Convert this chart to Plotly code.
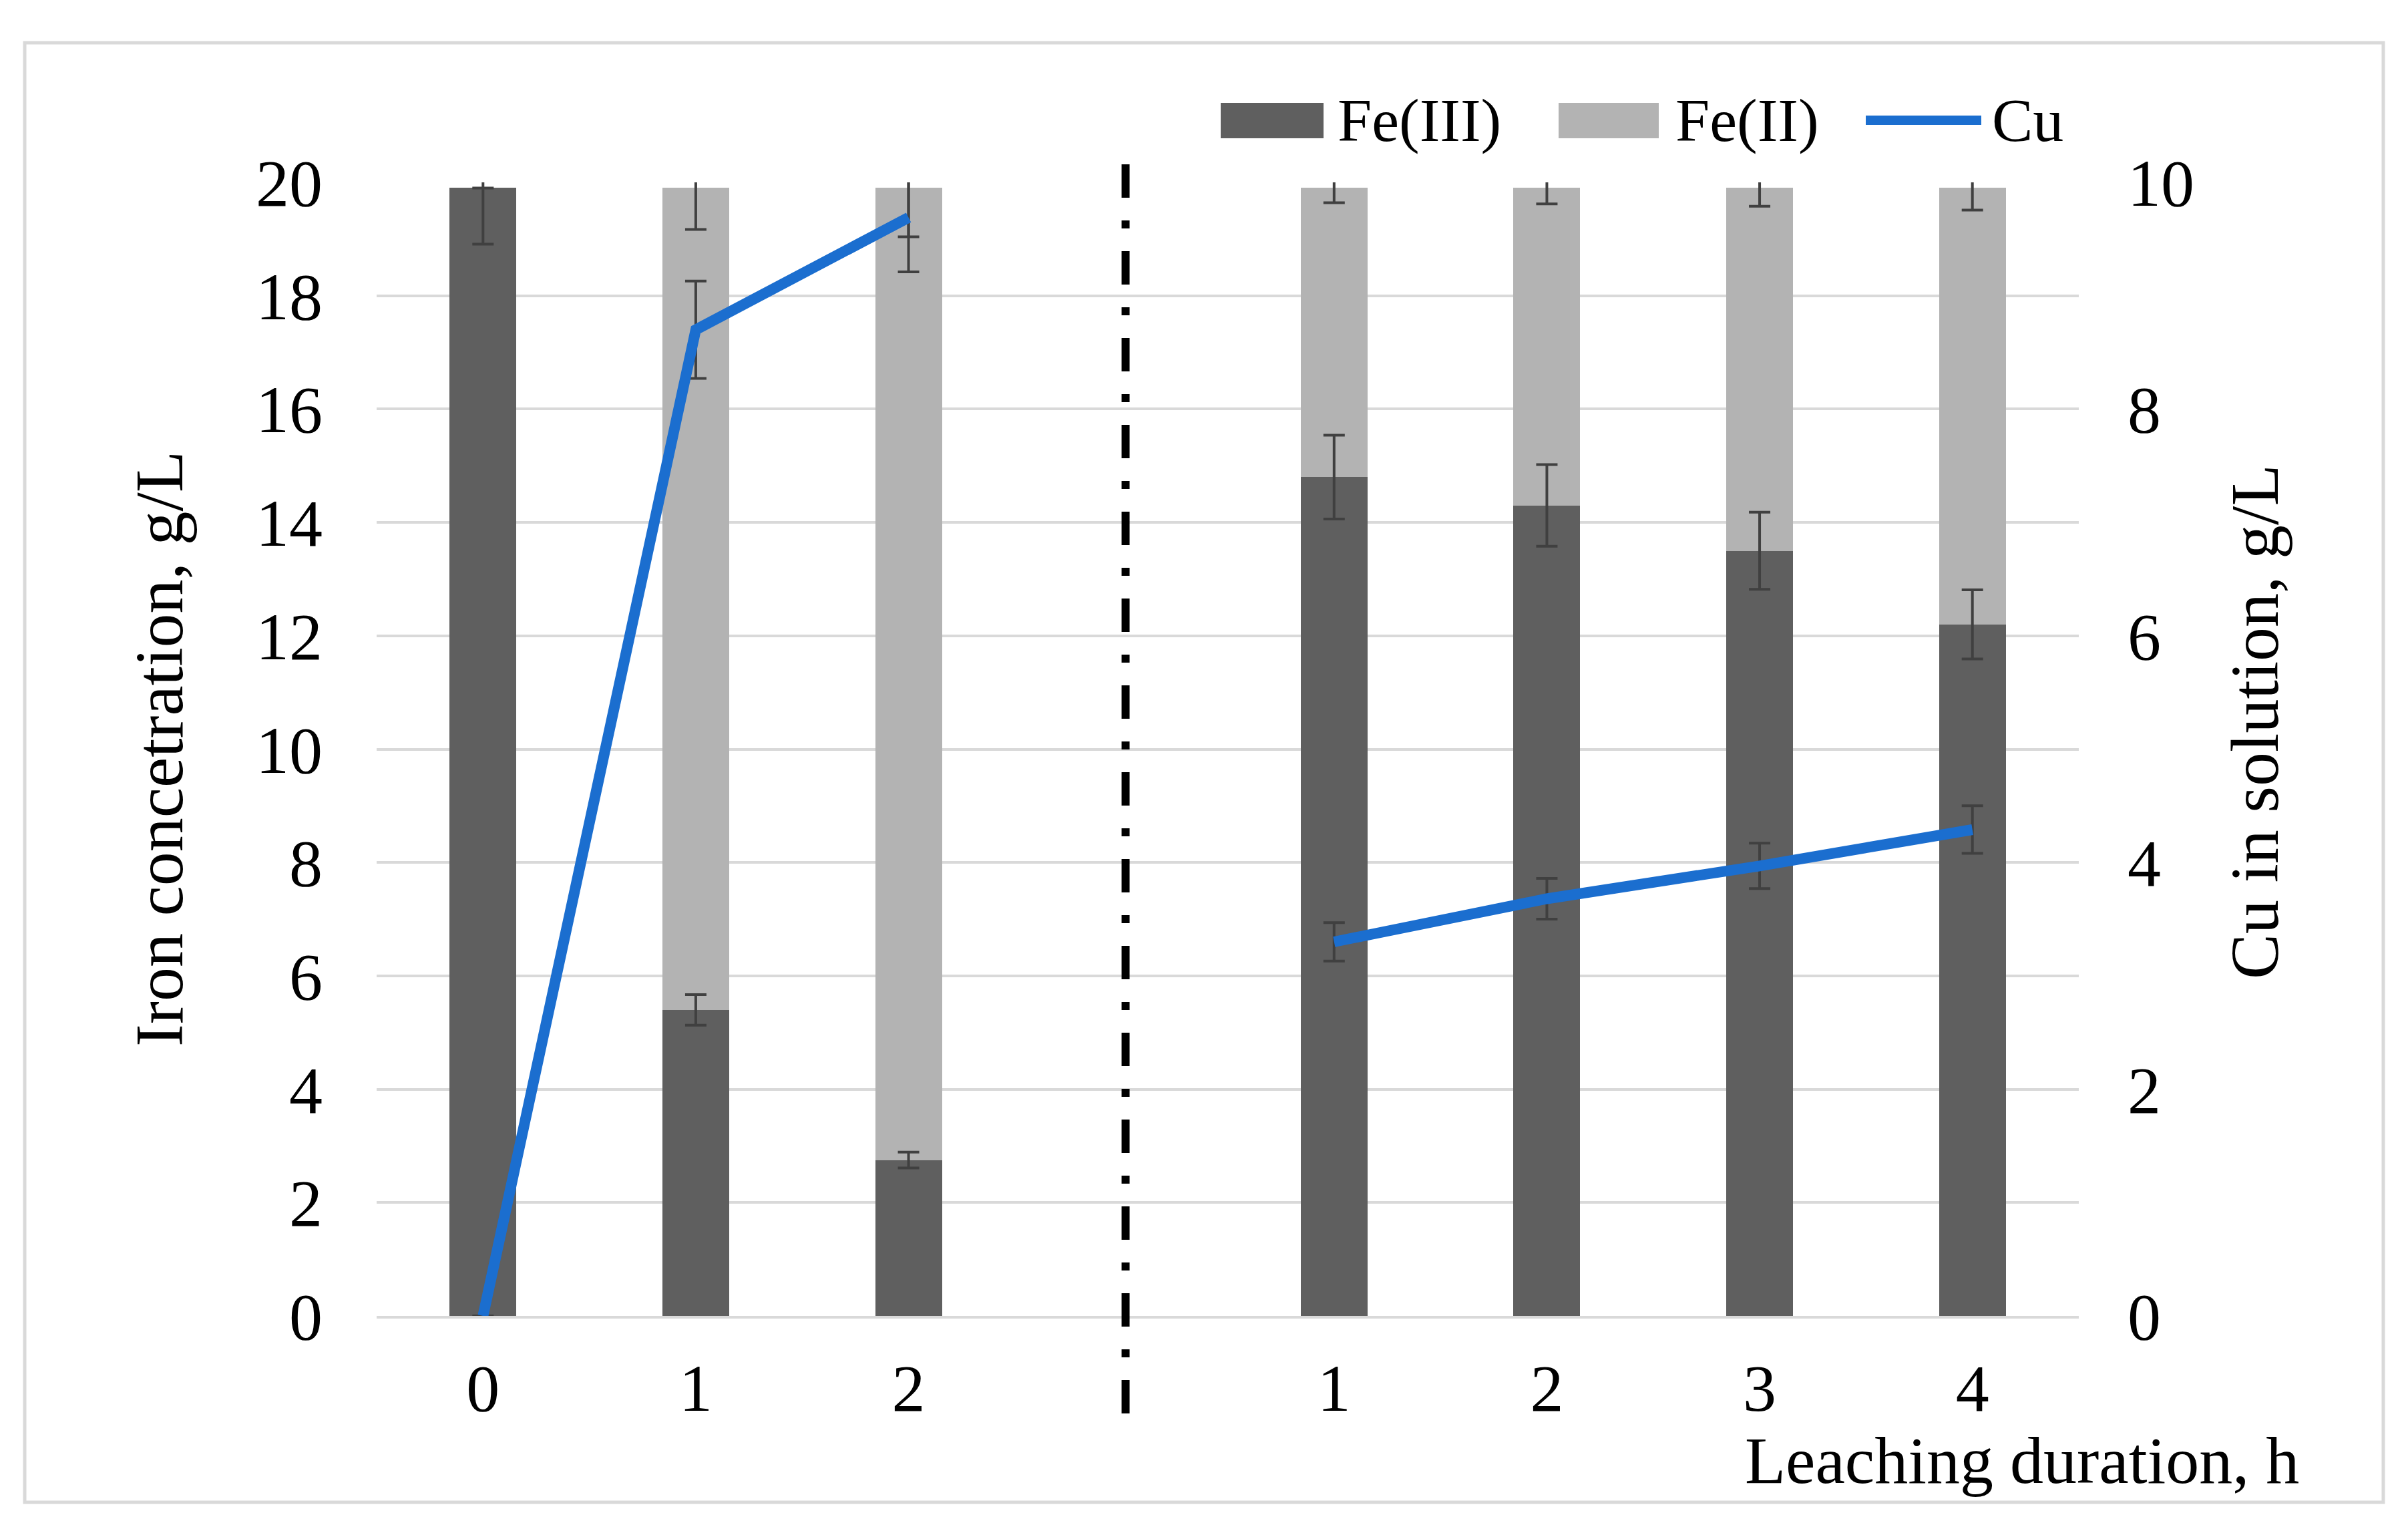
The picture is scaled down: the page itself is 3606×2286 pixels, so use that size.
import plotly.graph_objects as go

# ---- data ----
phase1_hours = ["0", "1", "2"]          # first leaching stage
phase2_hours = ["1", "2", "3", "4"]     # second stage (after the dash-dot line)

fe3 = [19.9, 5.4, 2.75, 14.8, 14.3, 13.5, 12.2]      # Fe(III), g/L
fe2 = [0.0, 14.5, 17.15, 5.1, 5.6, 6.4, 7.7]         # Fe(II), g/L (stacked on Fe(III))
cu = [0.0, 8.7, 9.69, 3.3, 3.68, 3.97, 4.29]         # Cu in solution, g/L

fe3_err = [0.99, 0.27, 0.14, 0.74, 0.72, 0.68, 0.61]
fe2_err = [0.0, 0.73, 0.86, 0.26, 0.28, 0.32, 0.39]
cu_err = [0.0, 0.43, 0.48, 0.17, 0.18, 0.20, 0.21]

FE3_COLOR = "#5f5f5f"
FE2_COLOR = "#b3b3b3"
CU_COLOR = "#1b6ecf"
ERR_COLOR = "#404040"
GRID_COLOR = "#d9d9d9"
FONT = "Liberation Serif"

W, H = 3606, 2286
PAGE_PAD = 8   # default body margin of the html page
PLOT_L, PLOT_R, PLOT_T, PLOT_B = 564, 3113, 273, 1970   # plot area, page pixels


def px(x, y):
    """page pixel position -> paper coords"""
    return (x - PLOT_L) / (PLOT_R - PLOT_L), (PLOT_B - y) / (PLOT_B - PLOT_T)


# slot 3 is left empty for the separator between the two stages
pos = [0, 1, 2] + [4, 5, 6, 7]
labels = phase1_hours + phase2_hours
gap = 3
totals = [a + b for a, b in zip(fe3, fe2)]

fig = go.Figure()

fig.add_trace(go.Bar(x=pos, y=fe3, name="Fe(III)", marker=dict(color=FE3_COLOR, line_width=0),
                     width=0.314, showlegend=False))
fig.add_trace(go.Bar(x=pos, y=fe2, name="Fe(II)", marker=dict(color=FE2_COLOR, line_width=0),
                     width=0.314, showlegend=False))

# error bars drawn on top of both stacks (so Fe(II) doesn't hide the Fe(III) ones)
err_style = dict(type="data", color=ERR_COLOR, thickness=4, width=16)
fig.add_trace(go.Scatter(x=pos, y=fe3, mode="markers", marker=dict(size=1, opacity=0),
                         error_y=dict(array=fe3_err, **err_style), showlegend=False, hoverinfo="skip"))
fig.add_trace(go.Scatter(x=pos, y=totals, mode="markers", marker=dict(size=1, opacity=0),
                         error_y=dict(array=fe2_err, **err_style), showlegend=False, hoverinfo="skip"))
fig.add_trace(go.Scatter(x=pos, y=cu, yaxis="y2", mode="markers", marker=dict(size=1, opacity=0),
                         error_y=dict(array=cu_err, **err_style), showlegend=False, hoverinfo="skip"))

# Cu line, broken at the separator slot
line_x = pos[:3] + [gap] + pos[3:]
line_y = cu[:3] + [None] + cu[3:]
fig.add_trace(go.Scatter(x=line_x, y=line_y, yaxis="y2", mode="lines", name="Cu",
                         line=dict(color=CU_COLOR, width=16), showlegend=False))

shapes = []
annotations = []

# outer frame
x0, y0 = px(37, 2249)
x1, y1 = px(3569, 64)
shapes.append(dict(type="rect", xref="paper", yref="paper", x0=x0, x1=x1, y0=y0, y1=y1,
                   line=dict(color=GRID_COLOR, width=5), layer="below"))

# dash-dot separator between the stages
_, sy0 = px(0, 2116)
_, sy1 = px(0, 223)
shapes.append(dict(type="line", xref="x", yref="paper", x0=gap + 0.02, x1=gap + 0.02, y0=sy0, y1=sy1,
                   line=dict(color="black", width=12, dash="50px,34px,12px,34px")))

# hand-drawn legend (Excel-style wide swatches)
legend_items = [
    ("Fe(III)", "rect", FE3_COLOR, 1828, 1982, 2001),
    ("Fe(II)", "rect", FE2_COLOR, 2334, 2484, 2507),
    ("Cu", "line", CU_COLOR, 2794, 2967, 2981),
]
for text, kind, color, sx0, sx1, tx in legend_items:
    a, b = px(sx0, 207)
    c, d = px(sx1, 154)
    if kind == "rect":
        shapes.append(dict(type="rect", xref="paper", yref="paper", x0=a, x1=c, y0=b, y1=d,
                           fillcolor=color, line_width=0))
    else:
        _, ym = px(0, 180)
        shapes.append(dict(type="line", xref="paper", yref="paper", x0=a, x1=c, y0=ym, y1=ym,
                           line=dict(color=color, width=14)))
    tx_p, ty_p = px(tx, 180)
    annotations.append(dict(text=text, xref="paper", yref="paper", x=tx_p, y=ty_p,
                            xanchor="left", yanchor="middle", showarrow=False,
                            font=dict(family=FONT, size=92, color="black")))

# axis titles
ax_, ay_ = px(238, 1121)
annotations.append(dict(text="Iron concetration, g/L", xref="paper", yref="paper", x=ax_, y=ay_,
                        textangle=-90, showarrow=False, xanchor="center", yanchor="middle",
                        font=dict(family=FONT, size=102, color="black")))
bx_, by_ = px(3376, 1081)
annotations.append(dict(text="Cu in solution, g/L", xref="paper", yref="paper", x=bx_, y=by_,
                        textangle=-90, showarrow=False, xanchor="center", yanchor="middle",
                        font=dict(family=FONT, size=102, color="black")))
cx_, cy_ = px(3445, 2186)
annotations.append(dict(text="Leaching duration, h", xref="paper", yref="paper", x=cx_, y=cy_,
                        showarrow=False, xanchor="right", yanchor="middle",
                        font=dict(family=FONT, size=100, color="black")))

tick_font = dict(family=FONT, size=100, color="black")

fig.update_layout(
    width=W - 2 * PAGE_PAD, height=H - 2 * PAGE_PAD,
    margin=dict(l=PLOT_L - PAGE_PAD, r=W - PAGE_PAD - PLOT_R,
                t=PLOT_T - PAGE_PAD, b=H - PAGE_PAD - PLOT_B, pad=0),
    barmode="stack",
    plot_bgcolor="white", paper_bgcolor="white",
    showlegend=False,
    shapes=shapes,
    annotations=annotations,
    xaxis=dict(
        range=[-0.5, 7.5], tickmode="array", tickvals=pos, ticktext=labels,
        showgrid=False, zeroline=False, showline=True, linecolor=GRID_COLOR, linewidth=4,
        ticks="", tickfont=tick_font, ticklabelstandoff=18,
    ),
    yaxis=dict(
        range=[0, 20], dtick=2, showgrid=True, gridcolor=GRID_COLOR, gridwidth=4,
        zeroline=False, showline=False, ticks="", tickfont=tick_font, ticklabelstandoff=80,
    ),
    yaxis2=dict(
        range=[0, 10], dtick=2, overlaying="y", side="right", showgrid=False,
        zeroline=False, showline=False, ticks="", tickfont=tick_font, ticklabelstandoff=72,
    ),
)

fig.write_html("out.html")
